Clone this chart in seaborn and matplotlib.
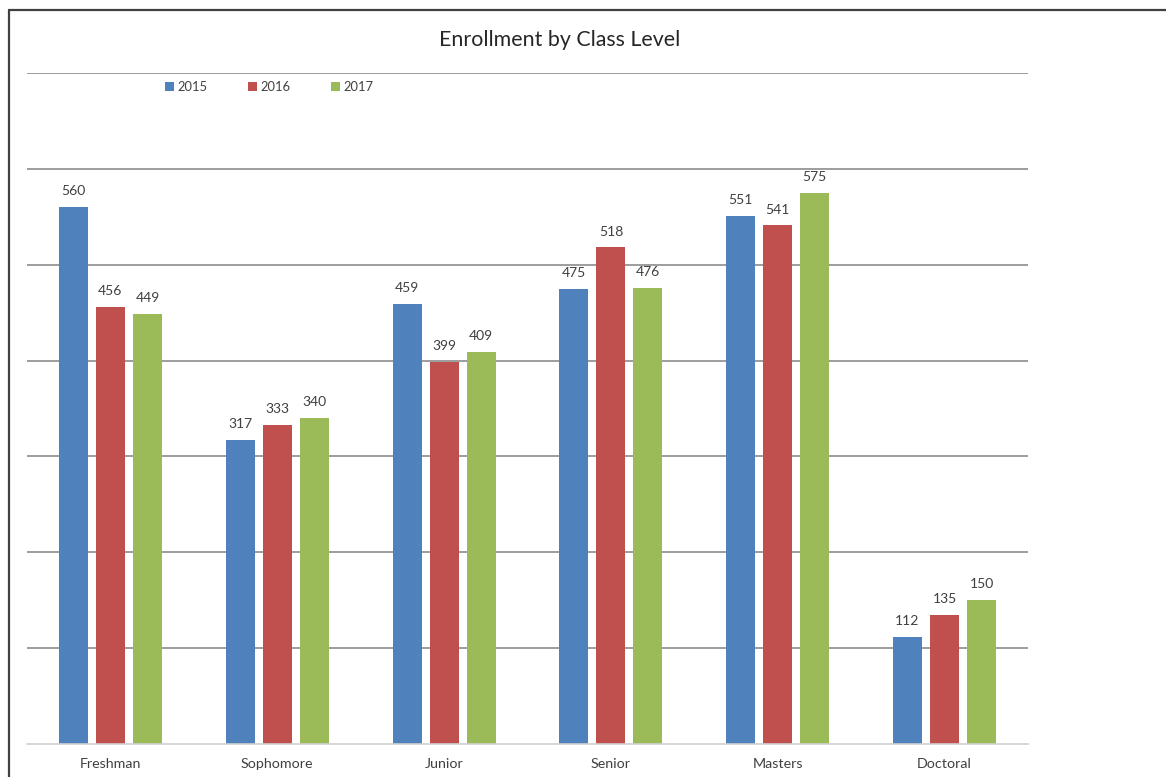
import matplotlib
matplotlib.use("Agg")
import matplotlib.pyplot as plt
from matplotlib.lines import Line2D
from matplotlib.patches import Patch
import seaborn as sns
import pandas as pd

categories = ["Freshman", "Sophomore", "Junior", "Senior", "Masters", "Doctoral"]
years = ["2015", "2016", "2017"]
v2015 = [560, 317, 459, 475, 551, 112]
v2016 = [456, 333, 399, 518, 541, 135]
v2017 = [449, 340, 409, 476, 575, 150]
colors = ["#4F81BD", "#C0504D", "#9BBB59"]

rows = []
for yr, vals in zip(years, [v2015, v2016, v2017]):
    for c, v in zip(categories, vals):
        rows.append({"Class": c, "Year": yr, "Enrollment": v})
df = pd.DataFrame(rows)

sns.set_theme(style="white")
plt.rcParams["font.family"] = ["Lato", "DejaVu Sans"]

fig = plt.figure(figsize=(11.66, 7.77), dpi=100)
ax = fig.add_axes([27/1166, 33/777, 1001/1166, 671/777])

sns.barplot(data=df, x="Class", y="Enrollment", hue="Year", order=categories,
            hue_order=years, palette=colors, width=0.666, gap=0.216,
            ax=ax, legend=False, saturation=1, edgecolor="none")

ax.set_ylim(0, 700)
ax.set_xlim(-0.5, 5.5)
ax.set_yticks(range(100, 701, 100))
ax.set_yticklabels([])
ax.yaxis.grid(True, color="#8c8c8c", linewidth=1.2)
ax.set_axisbelow(True)
for s in ["left", "right", "top"]:
    ax.spines[s].set_visible(False)
ax.spines["bottom"].set_color("#d0d0d0")
ax.spines["bottom"].set_linewidth(1.2)
ax.tick_params(axis="both", length=0)
ax.tick_params(axis="x", labelsize=10.3, colors="#404040", pad=10)
ax.tick_params(axis="y", left=False)
ax.set_xlabel("")
ax.set_ylabel("")

for cont in ax.containers:
    ax.bar_label(cont, padding=7, fontsize=10, color="#404040")

fig.text(560/1166, 1 - 40/777, "Enrollment by Class Level", ha="center", va="center",
         fontsize=15.4, color="#262626")

handles = [Patch(facecolor=c, edgecolor="none") for c in colors]
fig.legend(handles, years, loc="center left", bbox_to_anchor=(153/1166, 1 - 87/777),
           ncol=3, frameon=False, fontsize=9.3, handlelength=0.7, handleheight=0.7,
           handletextpad=0.3, columnspacing=3.1, labelcolor="#404040")

fig.add_artist(Line2D([8.5/1166, 8.5/1166], [0, 1 - 9.5/777], transform=fig.transFigure,
                      color="#404040", linewidth=1.6))
fig.add_artist(Line2D([8.5/1166, 1], [1 - 9.5/777, 1 - 9.5/777], transform=fig.transFigure,
                      color="#404040", linewidth=1.6))

fig.savefig("out.png", dpi=100)
